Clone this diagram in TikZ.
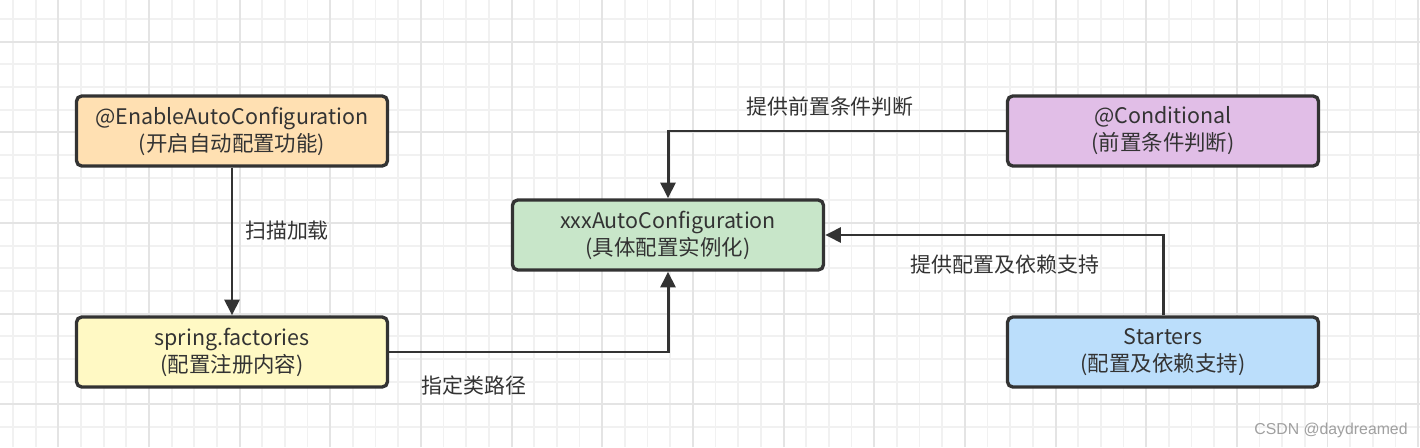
\documentclass[tikz,border=0pt]{standalone}
\usepackage{fontspec}
\usepackage{tikz}
\usetikzlibrary{arrows.meta}
\tikzset{>={Triangle[length=9pt,width=8.5pt]}}
\newfontfamily\cjk{Noto Sans CJK SC}
\newfontfamily\wmfont{Liberation Sans}
\definecolor{BoxLine}{HTML}{333333}
\definecolor{TextGrey}{HTML}{333333}
\definecolor{GridMinor}{HTML}{F1F1F1}
\definecolor{GridMajor}{HTML}{E4E4E4}
\definecolor{EnableFill}{HTML}{FFE0B2}
\definecolor{FactoryFill}{HTML}{FFF9C4}
\definecolor{AutoFill}{HTML}{C8E6C9}
\definecolor{CondFill}{HTML}{E1BEE7}
\definecolor{StarterFill}{HTML}{BBDEFB}
\definecolor{MarkGrey}{HTML}{A0A0A0}
\tikzset{
    box/.style={draw=BoxLine, line width=1.9pt, rounded corners=3pt,
        minimum width=6.22cm, minimum height=1.4cm, inner sep=0pt,
        align=center, text=TextGrey, font=\cjk\fontsize{12.2}{15.3}\selectfont},
    link/.style={->, draw=BoxLine, line width=1.7pt},
    tag/.style={text=TextGrey, inner sep=0pt, font=\cjk\fontsize{11.9}{15.3}\selectfont}
}

\begin{document}
\begin{tikzpicture}
                \useasboundingbox (0,0) rectangle (28.4,8.94);
                \fill[white] (0,0) rectangle (28.4,8.94);
                \draw[GridMinor, line width=1pt, step=0.4533, shift={(1.166,8.106)}] (-1.166,-8.106) grid (27.234,0.834);
                \draw[GridMajor, line width=1pt, step=1.8133, shift={(1.166,8.106)}] (-1.166,-8.106) grid (27.234,0.834);
                \node[box, fill=EnableFill] (enable) at (4.64,6.32) {@EnableAutoConfiguration\\(开启自动配置功能)};
                \node[box, fill=FactoryFill] (factories) at (4.64,1.90) {spring.factories\\(配置注册内容)};
                \node[box, fill=AutoFill] (auto) at (13.36,4.24) {xxxAutoConfiguration\\(具体配置实例化)};
                \node[box, fill=CondFill] (cond) at (23.26,6.32) {@Conditional\\(前置条件判断)};
                \node[box, fill=StarterFill] (starters) at (23.26,1.90) {Starters\\(配置及依赖支持)};
                \draw[link] (enable) -- (factories);
                \draw[link] (factories.east) -| (auto.south);
                \draw[link] (cond.west) -| (auto.north);
                \draw[link] (starters.north) |- (auto.east);
                \node[tag] (scan) at (5.74,4.32) {扫描加载};
                \node[tag] (path) at (9.48,1.22) {指定类路径};
                \node[tag] (precond) at (16.6,6.80) {提供前置条件判断};
                \node[tag] (support) at (20.1,3.64) {提供配置及依赖支持};
                \node[text=MarkGrey, font=\wmfont\fontsize{9}{9}\selectfont] (mark) at (26.62,0.34) {CSDN @daydreamed};
            \end{tikzpicture}
\end{document}
